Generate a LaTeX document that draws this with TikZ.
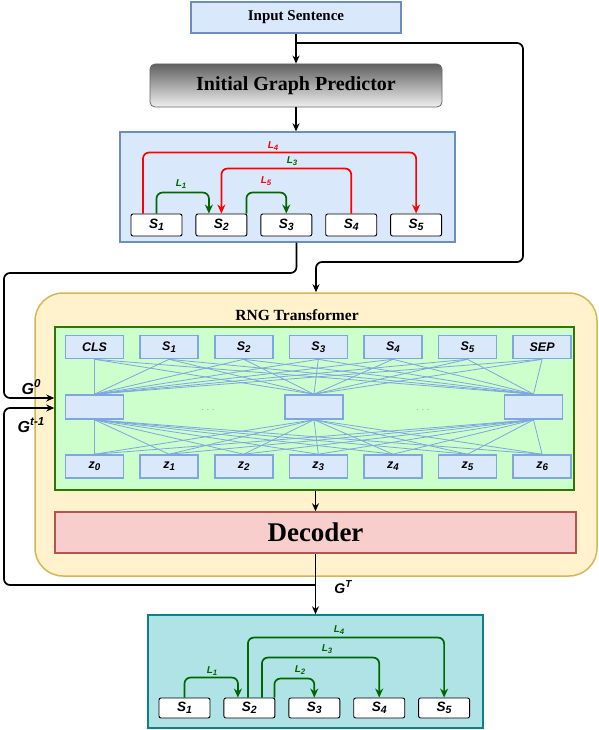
\documentclass[tikz,border=0pt]{standalone}
\usepackage{fontspec}
\setmainfont{Liberation Serif}
\setsansfont{Liberation Sans}
\usetikzlibrary{arrows.meta,positioning,calc}
\definecolor{inblue}{HTML}{DAE8FC}
\definecolor{inborder}{HTML}{6C8EBF}
\definecolor{tokborder}{HTML}{7EA6E0}
\definecolor{rngyellow}{HTML}{FFF2CC}
\definecolor{rngborder}{HTML}{D6B656}
\definecolor{encgreen}{HTML}{CCFFCC}
\definecolor{encborder}{HTML}{2D7600}
\definecolor{decred}{HTML}{F8CECC}
\definecolor{decborder}{HTML}{B85450}
\definecolor{outteal}{HTML}{B0E3E6}
\definecolor{outborder}{HTML}{0E8088}
\definecolor{arcgreen}{HTML}{006600}
\newcommand{\lbl}[2]{#1\raisebox{-0.35ex}{\scalebox{0.78}{#2}}}
\newcommand{\gsup}[2]{#1\raisebox{0.75ex}{\scalebox{0.72}{#2}}}

\begin{document}
\begin{tikzpicture}[x=1pt,y=-1pt,>={Stealth[length=8pt,width=7pt]},
 box/.style={draw=inborder,fill=inblue,line width=1.3pt,inner sep=0pt},
 word/.style={draw,rounded corners=2pt,fill=white,line width=0.9pt,minimum width=51pt,inner sep=0pt,font=\sffamily\bfseries\itshape\fontsize{13.5}{13.5}\selectfont},
 tok/.style={draw=tokborder,fill=inblue,line width=1.6pt,minimum width=58pt,minimum height=23pt,inner sep=0pt,font=\sffamily\bfseries\itshape\fontsize{12.5}{12.5}\selectfont},
 flow/.style={->,line width=1.7pt,rounded corners=6pt},
 arcr/.style={-{Stealth[length=9pt,width=8pt]},red,line width=1.7pt,rounded corners=6pt},
 arcg/.style={-{Stealth[length=9pt,width=8pt]},arcgreen,line width=1.7pt,rounded corners=6pt},
 att/.style={tokborder,line width=0.8pt},
 lab/.style={inner sep=0pt,font=\sffamily\bfseries\itshape\fontsize{10}{10}\selectfont},
 glab/.style={inner sep=0pt,font=\sffamily\bfseries\itshape\fontsize{16}{16}\selectfont}]
\useasboundingbox (0,0) rectangle (598,730);

% input and initial graph
\node[box,minimum width=210pt,minimum height=31pt,font=\bfseries\fontsize{15}{15}\selectfont] (in) at (296,17.5) {Input Sentence};
\node[draw=black!60,rounded corners=5pt,top color=black!62,bottom color=black!6,line width=0.8pt,minimum width=292pt,minimum height=43pt,font=\bfseries\fontsize{20}{20}\selectfont] (igp) at (296,85.5) {Initial Graph Predictor};
\node[box,minimum width=335pt,minimum height=110pt] (g0) at (287.5,187) {};
\node[word,minimum height=22pt] (a1) at (156.5,225) {\lbl{S}{1}};
\node[word,minimum height=22pt,right=13pt of a1] (a2) {\lbl{S}{2}};
\node[word,minimum height=22pt,right=13pt of a2] (a3) {\lbl{S}{3}};
\node[word,minimum height=22pt,right=13pt of a3] (a4) {\lbl{S}{4}};
\node[word,minimum height=22pt,right=13pt of a4] (a5) {\lbl{S}{5}};
\draw[arcr] ([xshift=-13.5pt]a1.north) -- ++(0,-61) -| (a5.north);
\draw[arcr] (a4.north) -- ++(0,-45) -| (a2.north);
\draw[arcg] (a1.north) -- ++(0,-21) -| ([xshift=-12.5pt]a2.north);
\draw[arcg] ([xshift=25pt]a2.north) -- ++(0,-21) -| (a3.north);
\node[lab,red] (al4) at (273,146) {\lbl{L}{4}};
\node[lab,arcgreen] (al3) at (292,161) {\lbl{L}{3}};
\node[lab,arcgreen] (al1) at (181,184) {\lbl{L}{1}};
\node[lab,red] (al5) at (266,181) {\lbl{L}{5}};

% RNG transformer
\node[draw=rngborder,fill=rngyellow,line width=1.5pt,rounded corners=28pt,minimum width=562pt,minimum height=283pt] (rng) at (316,434.5) {};
\node[font=\bfseries\fontsize{15.5}{16}\selectfont] (rngt) at (297,315) {RNG Transformer};
\node[draw=encborder,fill=encgreen,line width=1.5pt,minimum width=519pt,minimum height=163pt] (enc) at (314.5,408.5) {};
\node[tok] (c0) at (94.5,347) {CLS};
\node[tok,right=15pt of c0] (c1) {\lbl{S}{1}};
\node[tok,right=15pt of c1] (c2) {\lbl{S}{2}};
\node[tok,right=15pt of c2] (c3) {\lbl{S}{3}};
\node[tok,right=15pt of c3] (c4) {\lbl{S}{4}};
\node[tok,right=15pt of c4] (c5) {\lbl{S}{5}};
\node[tok,right=15pt of c5] (c6) {SEP};
\node[tok,minimum height=24pt] (h1) at (94.5,407) {};
\node[tok,minimum height=24pt] (h2) at (314,407) {};
\node[tok,minimum height=24pt] (h3) at (533.5,407) {};
\node[tok] (z0) at (94.5,466.5) {\lbl{z}{0}};
\node[tok,right=15pt of z0] (z1) {\lbl{z}{1}};
\node[tok,right=15pt of z1] (z2) {\lbl{z}{2}};
\node[tok,right=15pt of z2] (z3) {\lbl{z}{3}};
\node[tok,right=15pt of z3] (z4) {\lbl{z}{4}};
\node[tok,right=15pt of z4] (z5) {\lbl{z}{5}};
\node[tok,right=15pt of z5] (z6) {\lbl{z}{6}};
\foreach \h in {h1,h2,h3}{
  \foreach \t in {c0,c1,c2,c3,c4,c5,c6} \draw[att] (\t.south) -- (\h.north);
  \foreach \t in {z0,z1,z2,z3,z4,z5,z6} \draw[att] (\h.south) -- (\t.north);
}
\node[text=black!45,font=\sffamily\fontsize{8}{8}\selectfont] (d1) at (208,410) {. . .};
\node[text=black!45,font=\sffamily\fontsize{8}{8}\selectfont] (d2) at (423,410) {. . .};
\node[draw=decborder,fill=decred,line width=1.5pt,minimum width=521pt,minimum height=41pt,font=\bfseries\fontsize{27}{27}\selectfont] (dec) at (315.5,532.5) {Decoder};

% final graph
\node[draw=outborder,fill=outteal,line width=1.5pt,minimum width=335pt,minimum height=113pt] (gt) at (315.5,671.5) {};
\node[word,minimum height=20pt] (b1) at (184.5,708) {\lbl{S}{1}};
\node[word,minimum height=20pt,right=13pt of b1] (b2) {\lbl{S}{2}};
\node[word,minimum height=20pt,right=13pt of b2] (b3) {\lbl{S}{3}};
\node[word,minimum height=20pt,right=13pt of b3] (b4) {\lbl{S}{4}};
\node[word,minimum height=20pt,right=13pt of b4] (b5) {\lbl{S}{5}};
\draw[arcg] (b1.north) -- ++(0,-20) -| ([xshift=-11.5pt]b2.north);
\draw[arcg] ([xshift=-1.5pt]b2.north) -- ++(0,-60) -| (b5.north);
\draw[arcg] ([xshift=12.5pt]b2.north) -- ++(0,-40) -| (b4.north);
\draw[arcg] ([xshift=25pt]b2.north) -- ++(0,-19) -| (b3.north);
\node[lab,arcgreen] (bl1) at (212,671) {\lbl{L}{1}};
\node[lab,arcgreen] (bl4) at (339,630) {\lbl{L}{4}};
\node[lab,arcgreen] (bl3) at (327,649) {\lbl{L}{3}};
\node[lab,arcgreen] (bl2) at (300,670) {\lbl{L}{2}};

% connectors
\coordinate (br) at (296,43);
\coordinate (rx) at (523,262);
\coordinate (lx0) at (4,273);
\coordinate (fb) at (315.5,585);
\coordinate (lx1) at (4,585);
\draw[flow] (in) -- (igp);
\draw[flow] (igp) -- (igp |- g0.north);
\draw[flow] (br) -| (rx) -| (rng.north);
\draw[flow] ([xshift=9pt]g0.south) |- (lx0) |- ([yshift=10.5pt]enc.west);
\draw[flow] (enc.south -| dec.north) -- (dec.north);
\draw[flow] (dec) -- (gt);
\draw[flow] (fb) -- (lx1) |- ([yshift=0.5pt]enc.west);
\node[glab] (g0l) at (31,387) {\gsup{G}{0}};
\node[glab] (gt1l) at (31,425) {\gsup{G}{t-1}};
\node[glab,font=\sffamily\bfseries\itshape\fontsize{14}{14}\selectfont] (gtl) at (343,587) {\gsup{G}{T}};
\end{tikzpicture}
\end{document}
